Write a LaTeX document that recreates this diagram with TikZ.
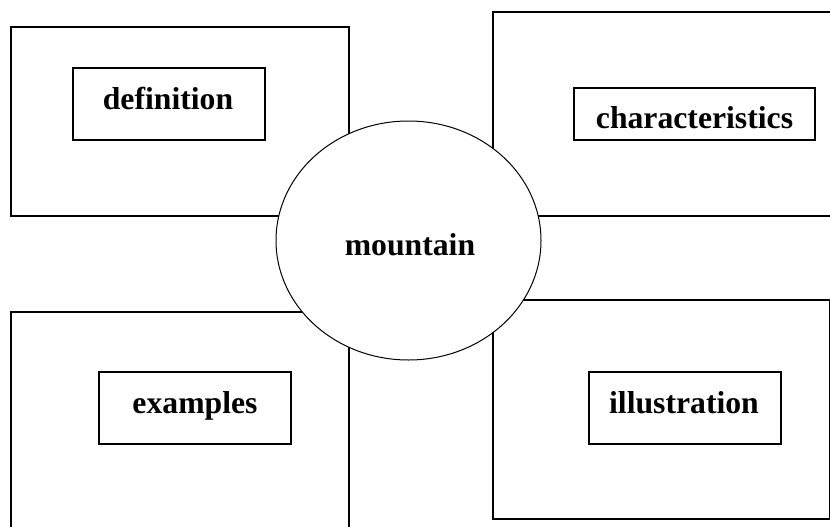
\documentclass[tikz,border=0pt]{standalone}
\usepackage{fontspec}
\setmainfont{Liberation Serif}
\usetikzlibrary{shapes.geometric}
\begin{document}
\begin{tikzpicture}[x=1pt,y=-1pt,
  outerbox/.style={draw, line width=1.3pt},
  innerbox/.style={draw, line width=1.3pt, fill=white, inner sep=0pt},
  word/.style={font=\fontsize{31.7}{38}\selectfont\bfseries, inner sep=0pt, anchor=base},
  hub/.style={ellipse, draw, line width=1pt, fill=white, inner sep=0pt,
              minimum width=265pt, minimum height=239pt}]
  \useasboundingbox (0,0) rectangle (830,527);
  \clip (0,0) rectangle (830,527);

  % four quadrant frames
  \draw[outerbox] (11,27) rectangle (349,216);
  \draw[outerbox] (493,12) rectangle (834,216);
  \draw[outerbox] (11,312) rectangle (349,535);
  \draw[outerbox] (493,300) rectangle (829.5,519);

  % central concept
  \node[hub] (mtn) at (408.5,240.5) {};
  \node[word] (mtntext) at (410,255) {mountain};

  % labelled boxes
  \node[innerbox, minimum width=192pt, minimum height=72pt] (defbox) at (169,104) {};
  \node[word] (deftext) at (168,110) {definition};

  \node[innerbox, minimum width=241pt, minimum height=52pt] (charbox) at (694.5,114) {};
  \node[word] (chartext) at (694.5,128) {characteristics};

  \node[innerbox, minimum width=192pt, minimum height=72pt] (exbox) at (195,408) {};
  \node[word] (extext) at (195,413) {examples};

  \node[innerbox, minimum width=192pt, minimum height=72pt] (illbox) at (685,408) {};
  \node[word] (illtext) at (684,413) {illustration};
\end{tikzpicture}
\end{document}
